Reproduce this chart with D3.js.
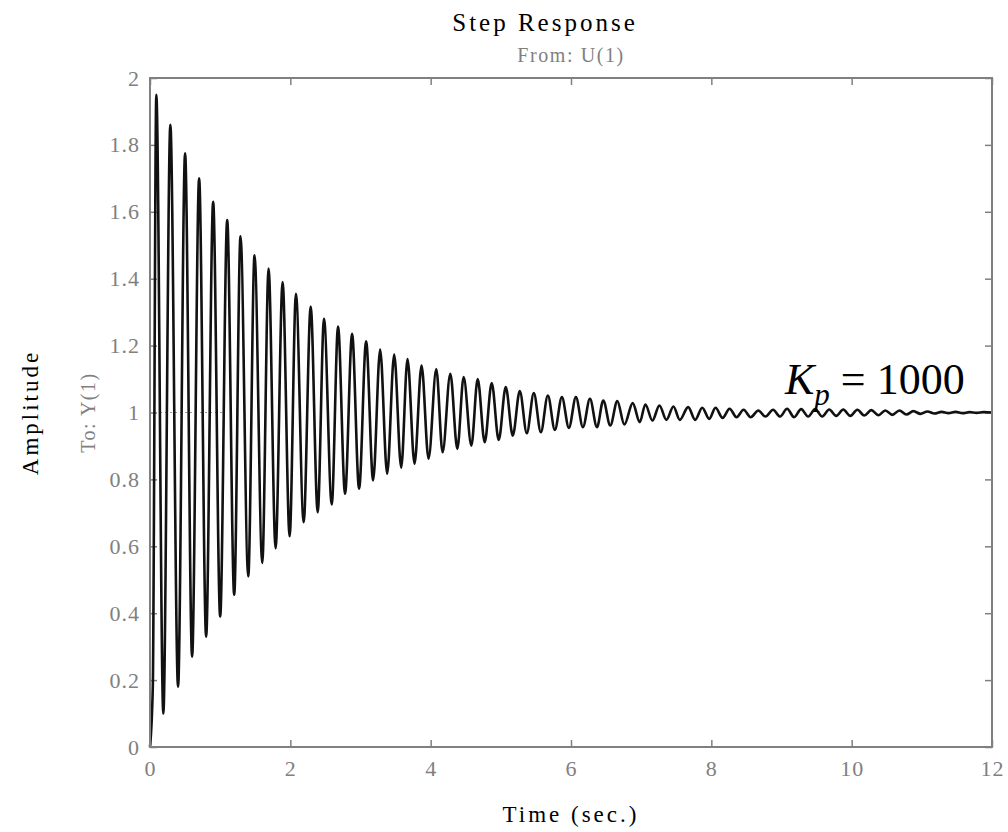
<!DOCTYPE html>
<html>
<head>
<meta charset="utf-8">
<script src="https://cdn.jsdelivr.net/npm/d3@7"></script>
<style>
  body { margin: 0; background: #fff; }
  svg text { font-family: "Liberation Serif", "Times New Roman", serif; }
</style>
</head>
<body>
<div id="chart"></div>
<script>
// step response (extrema of the oscillation)
const respTime = [
  0, 0.04, 0.09, 0.19, 0.29, 0.40, 0.50, 0.60, 0.70, 0.80, 0.90, 1.00,
  1.10, 1.20, 1.29, 1.40, 1.49, 1.60, 1.69, 1.79, 1.89, 1.99,
  2.08, 2.19, 2.29, 2.39, 2.48, 2.59, 2.68, 2.78, 2.88, 2.98,
  3.08, 3.18, 3.28, 3.38, 3.48, 3.58, 3.67, 3.77, 3.87, 3.97,
  4.08, 4.17, 4.28, 4.38, 4.47, 4.58, 4.67, 4.77, 4.87, 4.97,
  5.07, 5.17, 5.27, 5.37, 5.47, 5.57, 5.67, 5.77, 5.87, 5.97,
  6.07, 6.17, 6.27, 6.37, 6.46, 6.56, 6.66, 6.76, 6.88, 6.98,
  7.06, 7.16, 7.26, 7.36, 7.46, 7.55, 7.67, 7.77, 7.87, 7.97,
  8.06, 8.16, 8.26, 8.36, 8.46, 8.56, 8.67, 8.77, 8.88, 8.98,
  9.08, 9.18, 9.28, 9.38, 9.48, 9.58, 9.68, 9.78, 9.88, 9.98,
  10.08, 10.18, 10.28, 10.38, 10.48, 10.58, 10.68, 10.78, 10.88, 10.98,
  11.08, 11.18, 11.28, 11.38, 11.48, 11.58, 11.68, 11.78, 11.88, 12.00
];
const respAmp = [
  0, 0.18, 1.95, 0.10, 1.86, 0.18, 1.775, 0.27, 1.70, 0.33, 1.63, 0.39,
  1.575, 0.455, 1.527, 0.51, 1.47, 0.55, 1.43, 0.594, 1.39, 0.63,
  1.355, 0.672, 1.317, 0.702, 1.28, 0.725, 1.257, 0.757, 1.235, 0.772,
  1.213, 0.797, 1.188, 0.817, 1.173, 0.835, 1.16, 0.847, 1.14, 0.862,
  1.13, 0.881, 1.116, 0.891, 1.106, 0.901, 1.10, 0.911, 1.088, 0.918,
  1.076, 0.931, 1.064, 0.938, 1.058, 0.941, 1.051, 0.948, 1.046, 0.954,
  1.046, 0.956, 1.041, 0.956, 1.036, 0.961, 1.034, 0.964, 1.028, 0.971,
  1.024, 0.976, 1.021, 0.978, 1.018, 0.978, 1.016, 0.978, 1.014, 0.981,
  1.014, 0.984, 1.011, 0.986, 1.008, 0.986, 1.006, 0.988, 1.008, 0.988,
  1.011, 0.986, 1.010, 0.988, 1.010, 0.988, 1.009, 0.990, 1.009, 0.990,
  1.008, 0.991, 1.007, 0.992, 1.006, 0.993, 1.006, 0.994, 1.004, 0.996,
  1.003, 0.997, 1.002, 0.998, 1.002, 0.998, 1.001, 0.999, 1.001, 1.000
];

const xTicks = [0, 2, 4, 6, 8, 10, 12];
const yTicks = [0, 0.2, 0.4, 0.6, 0.8, 1, 1.2, 1.4, 1.6, 1.8, 2];

const svgWidth = 1008;
const svgHeight = 832;
const margin = { top: 78, right: 16, bottom: 85, left: 150 };
const width = svgWidth - margin.left - margin.right;
const height = svgHeight - margin.top - margin.bottom;
const axisGray = "#808080";

const svg = d3.select("#chart").append("svg")
  .attr("width", svgWidth)
  .attr("height", svgHeight);

const chartGroup = svg.append("g")
  .attr("transform", `translate(${margin.left}, ${margin.top})`);

const xScale = d3.scaleLinear().domain([0, 12]).range([0, width]);
const yScale = d3.scaleLinear().domain([0, 2]).range([height, 0]);

// axes: ticks point inward on all four sides
function styleAxis(g) {
  g.select(".domain").remove();
  g.selectAll(".tick line").attr("stroke", axisGray).attr("stroke-width", 1.5);
  g.selectAll(".tick text")
    .attr("fill", axisGray)
    .style("font-family", "Liberation Serif, serif")
    .style("font-size", "22px")
    .style("letter-spacing", "1px");
}

chartGroup.append("g")
  .attr("transform", `translate(0, ${height})`)
  .call(d3.axisBottom(xScale).tickValues(xTicks).tickSize(-7).tickPadding(13))
  .call(styleAxis);

chartGroup.append("g")
  .call(d3.axisTop(xScale).tickValues(xTicks).tickSize(-7).tickFormat(""))
  .call(styleAxis);

chartGroup.append("g")
  .call(d3.axisLeft(yScale).tickValues(yTicks).tickSize(-7).tickPadding(10)
    .tickFormat(d3.format("~g")))
  .call(styleAxis);

chartGroup.append("g")
  .attr("transform", `translate(${width}, 0)`)
  .call(d3.axisRight(yScale).tickValues(yTicks).tickSize(-7).tickFormat(""))
  .call(styleAxis);

// dotted reference at the final value
chartGroup.append("line")
  .attr("x1", 0)
  .attr("x2", xScale(1.03))
  .attr("y1", yScale(1))
  .attr("y2", yScale(1))
  .attr("stroke", "#999")
  .attr("stroke-width", 1)
  .attr("stroke-dasharray", "2,3");

// response curve
const points = respTime.map((t, i) => [t, respAmp[i]]);
const line = d3.line()
  .x(d => xScale(d[0]))
  .y(d => yScale(d[1]))
  .curve(d3.curveMonotoneX);

chartGroup.append("path")
  .datum(points)
  .attr("fill", "none")
  .attr("stroke", "#111")
  .attr("stroke-width", 2.6)
  .attr("stroke-linejoin", "round")
  .attr("d", line);

// frame
chartGroup.append("rect")
  .attr("width", width)
  .attr("height", height)
  .attr("fill", "none")
  .attr("stroke", axisGray)
  .attr("stroke-width", 2);

// titles and labels
svg.append("text")
  .attr("x", 545)
  .attr("y", 31)
  .attr("text-anchor", "middle")
  .style("font-size", "25px")
  .style("letter-spacing", "3px")
  .text("Step Response");

svg.append("text")
  .attr("x", margin.left + width / 2)
  .attr("y", 62)
  .attr("text-anchor", "middle")
  .attr("fill", axisGray)
  .style("font-size", "20px")
  .style("letter-spacing", "1.6px")
  .text("From: U(1)");

svg.append("text")
  .attr("transform", `translate(38, ${margin.top + height / 2}) rotate(-90)`)
  .attr("text-anchor", "middle")
  .style("font-size", "23px")
  .style("letter-spacing", "3px")
  .text("Amplitude");

svg.append("text")
  .attr("transform", `translate(95, ${margin.top + height / 2}) rotate(-90)`)
  .attr("text-anchor", "middle")
  .attr("fill", axisGray)
  .style("font-size", "20px")
  .style("letter-spacing", "1.5px")
  .text("To: Y(1)");

svg.append("text")
  .attr("x", margin.left + width / 2)
  .attr("y", 822)
  .attr("text-anchor", "middle")
  .style("font-size", "23px")
  .style("letter-spacing", "3px")
  .text("Time (sec.)");

// gain annotation
const note = svg.append("text")
  .attr("x", 785)
  .attr("y", 394)
  .style("font-size", "44px");
note.append("tspan").style("font-style", "italic").text("K");
note.append("tspan").style("font-style", "italic").style("font-size", "31px")
  .attr("dy", 11).text("p");
note.append("tspan").attr("dy", -11).text(" = 1000");
</script>
</body>
</html>
